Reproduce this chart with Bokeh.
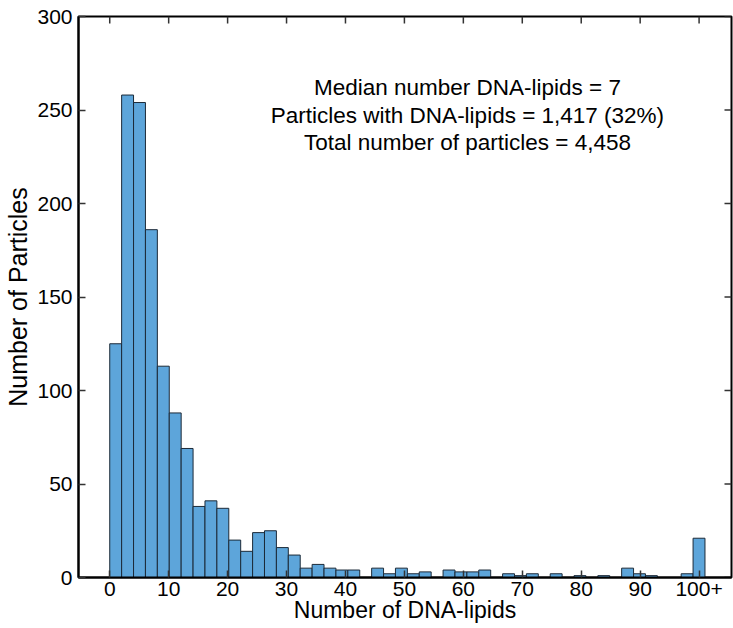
from bokeh.plotting import figure
from bokeh.models import FixedTicker, Range1d, Label, ColumnDataSource
from bokeh.embed import file_html
from bokeh.resources import INLINE

# Histogram counts, 50 bins spanning 0..101 (last bin = "100+")
counts = [125, 258, 254, 186, 113, 88, 69, 38, 41, 37,
          20, 14, 24, 25, 16, 12, 5, 7, 5, 4,
          4, 0, 5, 2, 5, 2, 3, 0, 4, 3,
          3, 4, 0, 2, 1, 2, 0, 2, 0, 1,
          0, 1, 0, 5, 2, 1, 0, 0, 2, 21]
bin_start = 0
bin_end = 101
x_ticks = [0, 10, 20, 30, 40, 50, 60, 70, 80, 90, 100]
x_tick_labels = ["0", "10", "20", "30", "40", "50", "60", "70", "80", "90", "100+"]
y_ticks = [0, 50, 100, 150, 200, 250, 300]
annotation_lines = ["Median number DNA-lipids = 7",
                    "Particles with DNA-lipids = 1,417 (32%)",
                    "Total number of particles = 4,458"]
x_label = "Number of DNA-lipids"
y_label = "Number of Particles"

FONT = "Liberation Sans"
X_MIN, X_MAX = -5.3, 105.5
Y_MIN, Y_MAX = 0, 300
FRAME_W, FRAME_H = 653, 561
TICK_PX = 7

n_bins = len(counts)
bw = (bin_end - bin_start) / n_bins
left = [bin_start + i * bw for i in range(n_bins)]
right = [v + bw for v in left]
src = ColumnDataSource(dict(left=left, right=right, top=counts, bottom=[0] * n_bins))

p = figure(width=733, height=628, output_backend="svg", toolbar_location=None,
           x_range=Range1d(X_MIN, X_MAX), y_range=Range1d(Y_MIN, Y_MAX),
           min_border_left=78, min_border_right=2, min_border_top=16, min_border_bottom=51)
p.background_fill_color = "white"
p.border_fill_color = "white"
p.grid.visible = False
p.outline_line_color = "black"
p.outline_line_width = 2
p.outline_line_alpha = 1

p.quad(left="left", right="right", top="top", bottom="bottom", source=src,
       fill_color="#5DA5DA", line_color="#1c2a38", line_width=1)

# inward ticks on top and right edges (mirroring the bottom/left axes)
tx = (X_MAX - X_MIN) / FRAME_W * TICK_PX
ty = (Y_MAX - Y_MIN) / FRAME_H * TICK_PX
p.segment(x0=x_ticks, y0=[Y_MAX] * len(x_ticks), x1=x_ticks, y1=[Y_MAX - ty] * len(x_ticks),
          line_color="#333333", line_width=1.5)
p.segment(x0=[X_MAX] * len(y_ticks), y0=y_ticks, x1=[X_MAX - tx] * len(y_ticks), y1=y_ticks,
          line_color="#333333", line_width=1.5)

xa = p.xaxis[0]
ya = p.yaxis[0]
xa.ticker = FixedTicker(ticks=x_ticks)
ya.ticker = FixedTicker(ticks=y_ticks)
xa.major_label_overrides = {t: l for t, l in zip(x_ticks, x_tick_labels)}

for ax in [xa, ya]:
    ax.major_tick_in = TICK_PX
    ax.major_tick_out = 0
    ax.major_tick_line_color = "#333333"
    ax.major_tick_line_width = 1.5
    ax.minor_tick_line_color = None
    ax.axis_line_color = "black"
    ax.axis_line_width = 2
    ax.major_label_text_font = FONT
    ax.major_label_text_font_size = "21px"
    ax.major_label_text_color = "black"
    ax.axis_label_text_font = FONT
    ax.axis_label_text_font_style = "normal"
    ax.axis_label_text_color = "black"

xa.axis_label = x_label
ya.axis_label = y_label
xa.axis_label_text_font_size = "23px"
ya.axis_label_text_font_size = "25px"
xa.major_label_standoff = 4
xa.axis_label_standoff = -2
ya.major_label_standoff = 6
ya.axis_label_standoff = 2

for i, line in enumerate(annotation_lines):
    p.add_layout(Label(x=60.7, y=262 - i * 14.7, text=line, text_align="center",
                       text_baseline="middle", text_font=FONT, text_font_size="22.5px",
                       text_color="black"))

open("out.html", "w").write(file_html(p, INLINE))
